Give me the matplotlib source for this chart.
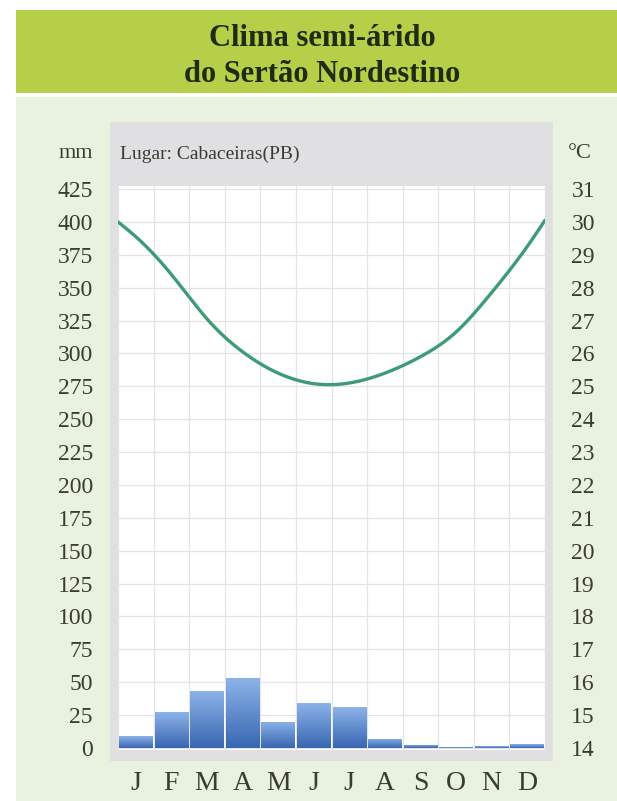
import numpy as np
import matplotlib
matplotlib.use('Agg')
import matplotlib.pyplot as plt
from matplotlib.patches import Rectangle
from matplotlib.colors import LinearSegmentedColormap

# data
months = ['J', 'F', 'M', 'A', 'M', 'J', 'J', 'A', 'S', 'O', 'N', 'D']
rain_mm = [9, 27, 43, 53, 20, 34, 31, 7, 2.5, 0.5, 1.5, 3]
temp_c = [29.55, 28.4, 27.05, 26.05, 25.4, 25.08, 25.1, 25.4, 25.9, 26.65, 27.85, 29.25]
temp_start = 30.0   # curve value at the left edge (start of Jan)
temp_end = 30.05    # curve value at the right edge (end of Dec)
mm_ticks = list(range(0, 426, 25))
c_ticks = list(range(14, 32))

W, H = 617, 801
SERIF = ['Liberation Serif', 'DejaVu Serif']
TXT = '#3a3c32'

fig = plt.figure(figsize=(W / 100, H / 100), dpi=100)
fig.patch.set_facecolor('white')


def px_rect(x0, y0, x1, y1, color):
    # rectangle given in pixel coords (origin top-left), drawn behind the axes
    fig.patches.append(Rectangle((x0 / W, 1 - y1 / H), (x1 - x0) / W, (y1 - y0) / H,
                                 transform=fig.transFigure, color=color, zorder=-5, lw=0))


px_rect(16, 97, W, H, '#e9f2de')          # pale green panel
px_rect(16, 10, W, 93, '#b6cf48')         # title band
px_rect(110, 122, 553, 761, '#e0e0e3')    # grey frame

fig.text(322 / W, 1 - 38 / H, 'Clima semi-árido', ha='center', va='center',
         fontsize=22, family=SERIF, weight='bold', color='#1f2b12')
fig.text(322 / W, 1 - 75 / H, 'do Sertão Nordestino', ha='center', va='center',
         fontsize=22, family=SERIF, weight='bold', color='#1f2b12')
fig.text(120 / W, 1 - 154 / H, 'Lugar: Cabaceiras(PB)', ha='left', va='center',
         fontsize=14, family=SERIF, color=TXT)
fig.text(93 / W, 1 - 154 / H, 'mm', ha='right', va='center',
         fontsize=16, family=SERIF, color=TXT)
fig.text(568 / W, 1 - 153 / H, '°C', ha='left', va='center',
         fontsize=16, family=SERIF, color=TXT)

# main axes: x 118..545 px, y 186..750 px
ax = fig.add_axes([118 / W, 1 - 750 / H, (545 - 118) / W, (750 - 186) / H])
ax.set_facecolor('white')
ylo = -(750 - 748) / 32.9 * 25
yhi = 425 + (189 - 186) / 32.9 * 25
x = np.arange(1, 13)

ax.set_xlim(0.5, 12.5)
ax.set_ylim(ylo, yhi)
ax.set_yticks(mm_ticks)
ax.set_xticks(x)
ax.set_xticklabels(months)
ax.set_xticks(np.arange(0.5, 12.6, 1), minor=True)
for s in ax.spines.values():
    s.set_visible(False)
ax.tick_params(axis='both', which='both', length=0)
ax.tick_params(axis='y', pad=18, labelsize=17, labelcolor=TXT)
ax.tick_params(axis='x', pad=15, labelsize=20, labelcolor=TXT)
for lab in ax.get_xticklabels() + ax.get_yticklabels():
    lab.set_family(SERIF)
ax.grid(True, which='minor', axis='x', color='#e4e4e4', lw=0.9)
ax.grid(True, which='major', axis='y', color='#e4e4e4', lw=0.9)
ax.set_axisbelow(True)

# precipitation bars with a vertical gradient
cmap = LinearSegmentedColormap.from_list('bl', ['#3867b2', '#8cb2e8'])
bars = ax.bar(x, rain_mm, width=0.94, color='#5587cc', zorder=2, lw=0)
grad = np.linspace(0, 1, 64).reshape(-1, 1)
for b in bars:
    bx, bw, bh = b.get_x(), b.get_width(), b.get_height()
    im = ax.imshow(grad, extent=[bx, bx + bw, 0, bh], origin='lower',
                   cmap=cmap, aspect='auto', zorder=3)
    im.set_clip_path(b)
ax.set_xlim(0.5, 12.5)
ax.set_ylim(ylo, yhi)

# temperature curve on the right axis
ax2 = ax.twinx()
ax2.set_ylim(14 + ylo / 25, 14 + yhi / 25)
ax2.set_yticks(c_ticks)
for s in ax2.spines.values():
    s.set_visible(False)
ax2.tick_params(axis='y', length=0, pad=19, labelsize=17, labelcolor=TXT)
for lab in ax2.get_yticklabels():
    lab.set_family(SERIF)

tx = np.concatenate([[0.5], x, [12.5]]).astype(float)
ty = np.concatenate([[temp_start], temp_c, [temp_end]])

# natural cubic spline, only to draw a smooth line through the points
n = len(tx)
h = np.diff(tx)
A = np.zeros((n, n))
r = np.zeros(n)
A[0, 0] = A[-1, -1] = 1
for i in range(1, n - 1):
    A[i, i - 1] = h[i - 1]
    A[i, i] = 2 * (h[i - 1] + h[i])
    A[i, i + 1] = h[i]
    r[i] = 6 * ((ty[i + 1] - ty[i]) / h[i] - (ty[i] - ty[i - 1]) / h[i - 1])
M = np.linalg.solve(A, r)
cx, cy = [], []
for i in range(n - 1):
    s = np.linspace(tx[i], tx[i + 1], 25)
    a, b = tx[i + 1] - s, s - tx[i]
    val = (M[i] * a ** 3 + M[i + 1] * b ** 3) / (6 * h[i]) \
        + (ty[i] / h[i] - M[i] * h[i] / 6) * a + (ty[i + 1] / h[i] - M[i + 1] * h[i] / 6) * b
    cx.extend(s)
    cy.extend(val)
ax2.plot(cx, cy, color='#3d9c76', lw=2.4, solid_capstyle='round', zorder=5)
ax2.set_xlim(0.5, 12.5)

fig.savefig('out.png', dpi=100, facecolor=fig.get_facecolor())
